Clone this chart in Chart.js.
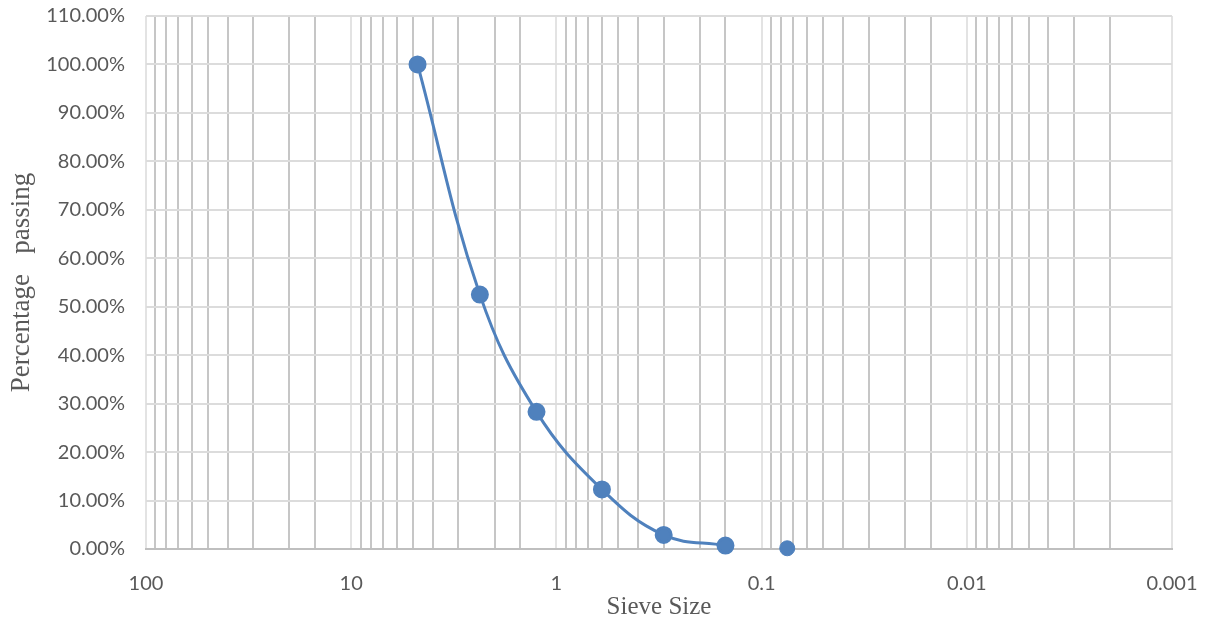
<!DOCTYPE html>
<html>
<head>
<meta charset="utf-8">
<script src="https://cdn.jsdelivr.net/npm/chart.js@4/dist/chart.umd.min.js"></script>
<style>
  html, body { margin: 0; padding: 0; background: #fff; }
  #wrap { width: 1206px; height: 622px; }
</style>
</head>
<body>
<div id="wrap"><canvas id="sieveChart" width="1206" height="622"></canvas></div>
<script>
// sieve sizes (mm) and percent passing
const sieveSizes = [4.75, 2.36, 1.25, 0.6, 0.3, 0.15];
const percentPassing = [100, 52.5, 28.3, 12.3, 2.9, 0.7];
// last sieve is plotted as a loose marker, not joined to the curve
const panSize = [0.075];
const panPassing = [0.15];

const xMin = 0.001, xMax = 100;
const yMin = 0, yMax = 110, yStep = 10;

const blue = '#4f81bd';
const tickFont = { family: 'Lato, "Open Sans", sans-serif', size: 20 };
const titleFont = { family: '"Liberation Serif", "DejaVu Serif", serif', size: 25 };

function isDecade(v) {
    const l = Math.log10(v);
    return Math.abs(l - Math.round(l)) < 1e-6;
}

const ctx = document.getElementById('sieveChart');
const charts = {};
charts.sieve = new Chart(ctx, {
    type: 'scatter',
    data: {
        datasets: [{
            label: 'Passing',
            data: sieveSizes.map((s, i) => ({ x: s, y: percentPassing[i] })),
            showLine: true,
            clip: false,
            borderColor: blue,
            backgroundColor: blue,
            borderWidth: 3,
            pointRadius: 7.5,
            pointHoverRadius: 7.5,
            tension: 0.4
        }, {
            label: 'Pan',
            data: panSize.map((s, i) => ({ x: s, y: panPassing[i] })),
            showLine: false,
            clip: false,
            borderColor: blue,
            backgroundColor: blue,
            pointRadius: 7.5
        }]
    },
    options: {
        responsive: false,
        devicePixelRatio: 1,
        animation: false,
        layout: { padding: { top: 16, right: 34, bottom: 0, left: 0 } },
        plugins: { legend: { display: false }, tooltip: { enabled: false } },
        scales: {
            x: {
                type: 'logarithmic',
                reverse: true,
                min: xMin,
                max: xMax,
                // fixed box so the plot area matches the picture
                afterFit: s => { s.height = 73; s.paddingLeft = 0; s.paddingRight = 0; },
                border: { color: '#bfbfbf', width: 2 },
                grid: {
                    drawTicks: false,
                    lineWidth: 2,
                    color: c => isDecade(c.tick.value) ? '#e3e3e3' : '#c6c6c6'
                },
                ticks: {
                    autoSkip: false,
                    maxRotation: 0,
                    minRotation: 0,
                    padding: 23,
                    color: '#595959',
                    font: tickFont,
                    callback: v => {
                        if (!isDecade(v)) return '';
                        const e = Math.round(Math.log10(v));
                        return e >= 0 ? String(Math.pow(10, e)) : Math.pow(10, e).toFixed(-e);
                    }
                },
                title: {
                    display: true,
                    text: 'Sieve Size',
                    color: '#595959',
                    font: titleFont,
                    padding: { top: 0, bottom: 0 }
                }
            },
            y: {
                min: yMin,
                max: yMax,
                afterFit: s => { s.width = 146; s.paddingTop = 0; s.paddingBottom = 0; },
                border: { display: false },
                grid: { drawTicks: false, lineWidth: 2, color: '#dcdcdc' },
                ticks: {
                    stepSize: yStep,
                    padding: 21,
                    color: '#595959',
                    font: tickFont,
                    callback: v => v.toFixed(2) + '%'
                },
                title: {
                    display: true,
                    text: 'Percentage   passing',
                    color: '#595959',
                    font: { family: titleFont.family, size: 27 },
                    padding: { top: 6, bottom: 0 }
                }
            }
        }
    }
});
</script>
</body>
</html>
